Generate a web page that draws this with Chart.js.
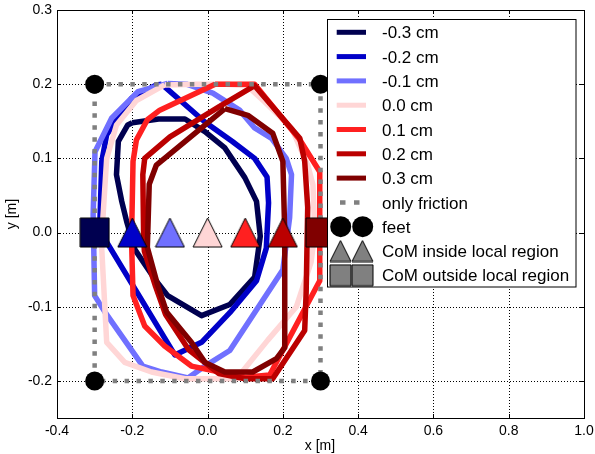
<!DOCTYPE html>
<html>
<head>
<meta charset="utf-8">
<script src="https://cdn.jsdelivr.net/npm/chart.js@4/dist/chart.umd.min.js"></script>
<style>
  body { margin: 0; background: #fff; }
  canvas { display: block; }
</style>
</head>
<body>
<canvas id="chart" width="595" height="454"></canvas>
<script>
// offset labels and colours, one per trajectory
var labels = ["-0.3 cm", "-0.2 cm", "-0.1 cm", "0.0 cm", "0.1 cm", "0.2 cm", "0.3 cm"];
var colors = ["#000050", "#0000c8", "#7070ff", "#ffd6d6", "#ff2020", "#bb0000", "#800000"];

// CoM trajectories (closed loops), x and y in metres
var xM03 = [-0.200, -0.130, -0.060, -0.007, 0.046, 0.099, 0.130, 0.140, 0.125, 0.059, -0.016, -0.106, -0.140, -0.193, -0.215, -0.228, -0.242, -0.237, -0.212];
var yM03 = [0.148, 0.153, 0.153, 0.136, 0.114, 0.074, 0.042, -0.005, -0.060, -0.097, -0.112, -0.085, -0.063, -0.023, 0.015, 0.042, 0.078, 0.123, 0.145];

var xM02 = [-0.122, -0.007, 0.065, 0.125, 0.158, 0.162, 0.156, 0.130, 0.059, -0.016, -0.087, -0.268, -0.286, -0.281, -0.268, -0.202, -0.136];
var yM02 = [0.200, 0.149, 0.123, 0.100, 0.075, 0.040, -0.021, -0.065, -0.108, -0.148, -0.165, -0.013, 0.015, 0.096, 0.132, 0.181, 0.199];

var xM01 = [-0.106, -0.056, 0.014, 0.085, 0.125, 0.170, 0.209, 0.223, 0.218, 0.200, 0.059, -0.007, -0.052, -0.122, -0.172, -0.273, -0.300, -0.304, -0.299, -0.255, -0.185];
var yM01 = [0.201, 0.200, 0.188, 0.165, 0.141, 0.127, 0.100, 0.078, 0.020, -0.050, -0.159, -0.180, -0.196, -0.188, -0.180, -0.107, -0.085, 0.024, 0.109, 0.154, 0.190];

var xP00 = [-0.114, -0.030, 0.050, 0.105, 0.152, 0.223, 0.266, 0.280, 0.285, 0.275, 0.236, 0.160, 0.077, -0.060, -0.149, -0.220, -0.268, -0.281, -0.278, -0.268, -0.242, -0.189];
var yP00 = [0.199, 0.200, 0.200, 0.198, 0.176, 0.141, 0.091, 0.064, 0.000, -0.040, -0.100, -0.145, -0.197, -0.197, -0.188, -0.175, -0.148, -0.023, 0.020, 0.100, 0.145, 0.178];

var xP01 = [0.020, 0.125, 0.245, 0.298, 0.298, 0.165, 0.100, 0.032, -0.043, -0.114, -0.167, -0.198, -0.202, -0.198, -0.189, -0.160, -0.127];
var yP01 = [0.200, 0.200, 0.125, 0.082, -0.065, -0.192, -0.195, -0.188, -0.180, -0.153, -0.126, -0.085, -0.010, 0.096, 0.125, 0.152, 0.165];

var xP02 = [0.032, 0.125, 0.245, 0.258, 0.266, 0.262, 0.258, 0.173, 0.100, 0.030, -0.050, -0.112, -0.138, -0.168, -0.170, -0.172, -0.167, -0.100];
var yP02 = [0.170, 0.198, 0.127, 0.096, 0.034, -0.079, -0.132, -0.197, -0.197, -0.190, -0.158, -0.110, -0.073, -0.025, 0.000, 0.078, 0.100, 0.129];

var xP03 = [0.046, 0.107, 0.173, 0.200, 0.205, 0.205, 0.183, 0.120, 0.046, -0.007, -0.043, -0.109, -0.132, -0.160, -0.155, -0.136];
var yP03 = [0.167, 0.158, 0.134, 0.096, 0.000, -0.155, -0.170, -0.188, -0.188, -0.175, -0.148, -0.107, -0.072, -0.020, 0.065, 0.091];

var trajX = [xM03, xM02, xM01, xP00, xP01, xP02, xP03];
var trajY = [yM03, yM02, yM01, yP00, yP01, yP02, yP03];

// friction-only support region and feet
var frictionX = [-0.3, 0.3, 0.3, -0.3, -0.3];
var frictionY = [0.2, 0.2, -0.2, -0.2, 0.2];
var feetX = [-0.3, 0.3, 0.3, -0.3];
var feetY = [0.2, 0.2, -0.2, -0.2];

// CoM positions, inside (triangle) or outside (square) the local region
var comX = [-0.3, -0.2, -0.1, 0.0, 0.1, 0.2, 0.3];
var comY = [0, 0, 0, 0, 0, 0, 0];
var comInside = [false, true, true, true, true, true, false];

var extraLabels = ["only friction", "feet", "CoM inside local region", "CoM outside local region"];

var xTicks = [-0.4, -0.2, 0.0, 0.2, 0.4, 0.6, 0.8, 1.0];
var yTicks = [-0.2, -0.1, 0.0, 0.1, 0.2, 0.3];

var FONT = '"Liberation Sans", Arial, sans-serif';

function toPoints(xs, ys) {
  return xs.map(function (x, i) { return { x: x, y: ys[i] }; });
}

function makeMarker(shape, size, fill) {
  var c = document.createElement("canvas");
  c.width = size + 2;
  c.height = size + 2;
  var g = c.getContext("2d");
  g.fillStyle = fill;
  g.strokeStyle = "#000";
  g.lineWidth = 1;
  g.beginPath();
  if (shape === "square") {
    g.rect(1, 1, size, size);
  } else {
    g.moveTo(1 + size / 2, 1);
    g.lineTo(1 + size, 1 + size);
    g.lineTo(1, 1 + size);
    g.closePath();
  }
  g.fill();
  g.stroke();
  return c;
}

var comStyles = comX.map(function (x, i) {
  return comInside[i] ? makeMarker("triangle", 29, colors[i]) : makeMarker("square", 29, colors[i]);
});

var datasets = [];
trajX.forEach(function (xs, i) {
  var pts = toPoints(xs, trajY[i]);
  pts.push(pts[0]);
  datasets.push({
    label: labels[i],
    data: pts,
    showLine: true,
    borderColor: colors[i],
    borderWidth: 5.5,
    borderJoinStyle: "round",
    pointRadius: 0,
    fill: false,
    order: -i
  });
});
datasets.push({
  label: extraLabels[0],
  data: toPoints(frictionX, frictionY),
  showLine: true,
  borderColor: "#808080",
  borderWidth: 4.5,
  borderDash: [4.5, 7.4],
  borderCapStyle: "butt",
  pointRadius: 0,
  fill: false,
  order: -10
});
datasets.push({
  label: extraLabels[1],
  data: toPoints(feetX, feetY),
  showLine: false,
  pointRadius: 9.5,
  pointBackgroundColor: "#000",
  pointBorderColor: "#000",
  pointBorderWidth: 0,
  order: -11
});
datasets.push({
  label: "CoM",
  data: toPoints(comX, comY),
  showLine: false,
  pointStyle: comStyles,
  pointRadius: 15,
  order: -12
});

var framePlugin = {
  id: "frame",
  beforeDatasetsDraw: function (chart) {
    var ctx = chart.ctx, a = chart.chartArea;
    var xs = chart.scales.x, ys = chart.scales.y;
    ctx.save();
    ctx.strokeStyle = "#000";
    ctx.lineWidth = 1;
    ctx.setLineDash([1, 2]);
    xTicks.forEach(function (v) {
      var px = Math.round(xs.getPixelForValue(v)) + 0.5;
      ctx.beginPath();
      ctx.moveTo(px, a.top);
      ctx.lineTo(px, a.bottom);
      ctx.stroke();
    });
    yTicks.forEach(function (v) {
      var py = Math.round(ys.getPixelForValue(v)) + 0.5;
      ctx.beginPath();
      ctx.moveTo(a.left, py);
      ctx.lineTo(a.right, py);
      ctx.stroke();
    });
    ctx.restore();
  },
  afterDraw: function (chart) {
    var ctx = chart.ctx, a = chart.chartArea;
    var xs = chart.scales.x, ys = chart.scales.y;
    ctx.save();
    ctx.strokeStyle = "#000";
    ctx.lineWidth = 1;
    ctx.setLineDash([]);
    // inward ticks on all four sides
    ctx.beginPath();
    xTicks.forEach(function (v) {
      var px = Math.round(xs.getPixelForValue(v)) + 0.5;
      ctx.moveTo(px, a.bottom); ctx.lineTo(px, a.bottom - 4);
      ctx.moveTo(px, a.top); ctx.lineTo(px, a.top + 4);
    });
    yTicks.forEach(function (v) {
      var py = Math.round(ys.getPixelForValue(v)) + 0.5;
      ctx.moveTo(a.left, py); ctx.lineTo(a.left + 4, py);
      ctx.moveTo(a.right, py); ctx.lineTo(a.right - 4, py);
    });
    ctx.stroke();
    ctx.strokeRect(Math.round(a.left) + 0.5, Math.round(a.top) + 0.5,
      Math.round(a.right - a.left), Math.round(a.bottom - a.top));

    // axis titles
    ctx.fillStyle = "#000";
    ctx.font = "14px " + FONT;
    ctx.textAlign = "center";
    ctx.textBaseline = "middle";
    ctx.fillText("x [m]", (a.left + a.right) / 2 - 0.5, 446);
    ctx.save();
    ctx.translate(12, (a.top + a.bottom) / 2);
    ctx.rotate(-Math.PI / 2);
    ctx.fillText("y [m]", 0, 0);
    ctx.restore();

    // legend
    var bx = 327.5, by = 19.5, bw = 248.5, bh = 267.5;
    ctx.fillStyle = "#fff";
    ctx.fillRect(bx, by, bw, bh);
    ctx.strokeRect(bx, by, bw, bh);
    var x0 = 336.7, x1 = 366, tx = 382, row0 = 32.3, step = 24.3;
    ctx.font = "17px " + FONT;
    ctx.textAlign = "left";
    ctx.textBaseline = "alphabetic";
    var allLabels = labels.concat(extraLabels);
    allLabels.forEach(function (text, i) {
      var cy = row0 + i * step;
      if (i < labels.length) {
        ctx.strokeStyle = colors[i];
        ctx.lineWidth = 5;
        ctx.setLineDash([]);
        ctx.beginPath();
        ctx.moveTo(x0, cy); ctx.lineTo(x1, cy);
        ctx.stroke();
      } else if (i === labels.length) {
        ctx.strokeStyle = "#808080";
        ctx.lineWidth = 4.5;
        ctx.lineCap = "butt";
        ctx.setLineDash([5.5, 8.5]);
        ctx.beginPath();
        ctx.moveTo(340, cy); ctx.lineTo(366, cy);
        ctx.stroke();
        ctx.setLineDash([]);
      } else if (i === labels.length + 1) {
        ctx.fillStyle = "#000";
        [340.7, 362.7].forEach(function (mx) {
          ctx.beginPath();
          ctx.arc(mx, cy, 10.5, 0, Math.PI * 2);
          ctx.fill();
        });
      } else {
        var shape = i === labels.length + 2 ? "triangle" : "square";
        var m = makeMarker(shape, 21, "#808080");
        [340.5, 362.5].forEach(function (mx) {
          ctx.drawImage(m, mx - m.width / 2, cy - m.height / 2);
        });
      }
      ctx.fillStyle = "#000";
      ctx.fillText(text, tx, cy + 6.1);
    });
    ctx.restore();
  }
};

Chart.defaults.font.family = FONT;
Chart.defaults.color = "#000";

var chart = new Chart(document.getElementById("chart").getContext("2d"), {
  type: "scatter",
  data: { datasets: datasets },
  options: {
    responsive: false,
    animation: false,
    events: [],
    layout: { autoPadding: false, padding: { left: 0, right: 11, top: 10, bottom: 0 } },
    plugins: { legend: { display: false }, tooltip: { enabled: false } },
    scales: {
      x: {
        type: "linear",
        min: -0.4,
        max: 1.0,
        grid: { display: false, drawTicks: false },
        border: { display: false },
        ticks: {
          padding: 5,
          font: { size: 14 },
          maxRotation: 0,
          autoSkip: false,
          callback: function (v) { return Number(v).toFixed(1); }
        },
        afterBuildTicks: function (s) { s.ticks = xTicks.map(function (v) { return { value: v }; }); },
        afterFit: function (s) {
          s.height = 36;
          s.paddingLeft = 0;
          s.paddingRight = 0;
        }
      },
      y: {
        type: "linear",
        min: -0.25,
        max: 0.3,
        grid: { display: false, drawTicks: false },
        border: { display: false },
        ticks: {
          padding: 5,
          font: { size: 14 },
          autoSkip: false,
          callback: function (v) { return Number(v).toFixed(1); }
        },
        afterBuildTicks: function (s) { s.ticks = yTicks.map(function (v) { return { value: v }; }); },
        afterFit: function (s) {
          s.width = 57;
          s.paddingTop = 0;
          s.paddingBottom = 0;
        }
      }
    }
  },
  plugins: [framePlugin]
});
</script>
</body>
</html>
